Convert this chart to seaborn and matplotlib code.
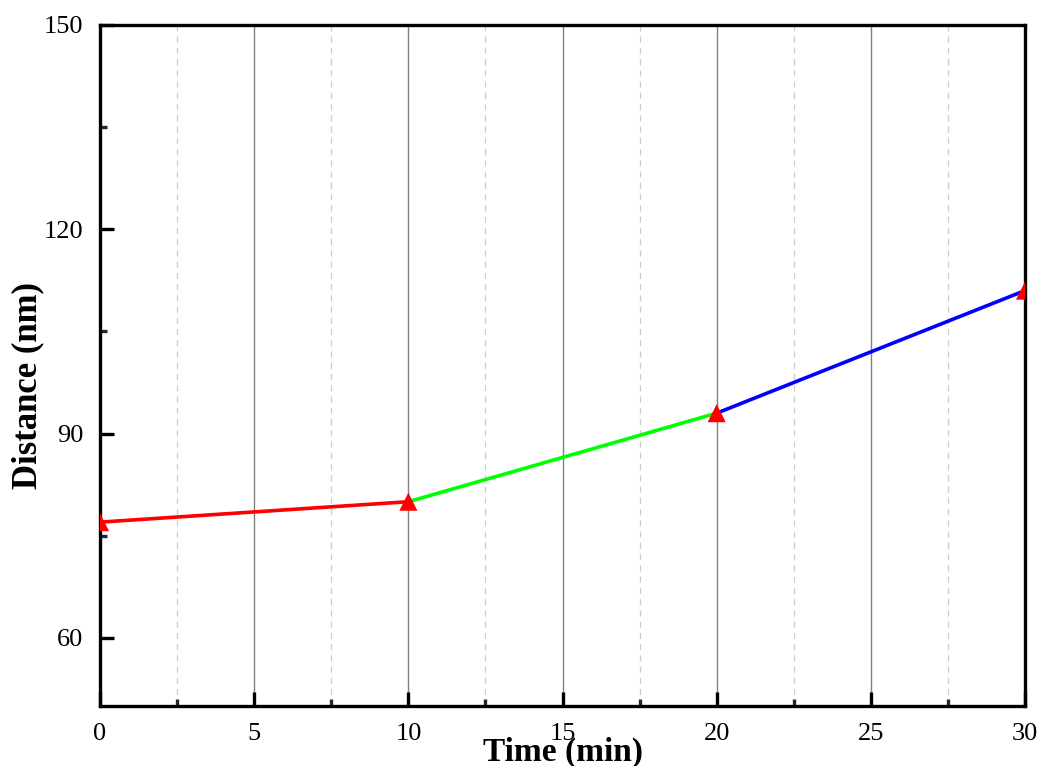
import matplotlib
matplotlib.use("Agg")
import matplotlib.pyplot as plt
from matplotlib.ticker import MultipleLocator
import seaborn as sns
import pandas as pd

# Measured distance over time, split into three growth stages
time_min = [0, 10, 20, 30]
distance_nm = [77, 80, 93, 111]
stage_colors = ["#ff0000", "#00ff00", "#0000ff"]

x_ticks = [0, 5, 10, 15, 20, 25, 30]
y_ticks = [60, 90, 120, 150]
y_minor_ticks = [75, 105, 135]

sns.set_theme(style="white")
plt.rcParams["font.family"] = ["Liberation Serif", "DejaVu Serif"]
plt.rcParams["text.color"] = "black"
plt.rcParams["axes.labelcolor"] = "black"

rows = []
for i in range(len(time_min) - 1):
    for j in (i, i + 1):
        rows.append({"stage": i, "time": time_min[j], "distance": distance_nm[j]})
segments = pd.DataFrame(rows)
points = pd.DataFrame({"time": time_min, "distance": distance_nm})

fig = plt.figure(figsize=(10.42, 7.66), dpi=100)
ax = fig.add_axes([0.096, 0.0783, 0.8877, 0.8891])

sns.lineplot(data=segments, x="time", y="distance", hue="stage",
             palette=stage_colors, linewidth=2.6, legend=False, ax=ax,
             estimator=None, sort=False, zorder=3)
sns.scatterplot(data=points, x="time", y="distance", marker="^", color="#ff0000",
                s=170, edgecolor="none", ax=ax, zorder=4, legend=False)

ax.set_xlim(0, 30)
ax.set_ylim(50, 150)
ax.set_xticks(x_ticks)
ax.set_yticks(y_ticks)
ax.xaxis.set_minor_locator(MultipleLocator(2.5))
ax.set_yticks(y_minor_ticks, minor=True)

ax.grid(False)
ax.xaxis.grid(True, which="major", color="#808080", linewidth=1.0, linestyle="-")
ax.xaxis.grid(True, which="minor", color="#cccccc", linewidth=0.9, linestyle=(0, (5, 4)))
ax.set_axisbelow(True)

for s in ax.spines.values():
    s.set_color("black")
    s.set_linewidth(2.4)

ax.tick_params(axis="both", which="major", direction="in", length=10, width=2.4,
               labelsize=19, colors="black", bottom=True, left=True,
               top=False, right=False)
ax.tick_params(axis="y", which="major", pad=12)
ax.tick_params(axis="x", which="major", pad=12)
ax.tick_params(axis="both", which="minor", direction="in", length=5, width=2.4,
               bottom=True, left=True, top=False, right=False)

ax.set_xlabel("Time (min)", fontsize=24, fontweight="bold", labelpad=-6)
ax.set_ylabel("Distance (nm)", fontsize=25, fontweight="bold", va="center")
ax.yaxis.set_label_coords(-0.078, 0.471)

fig.savefig("out.png", dpi=100)
